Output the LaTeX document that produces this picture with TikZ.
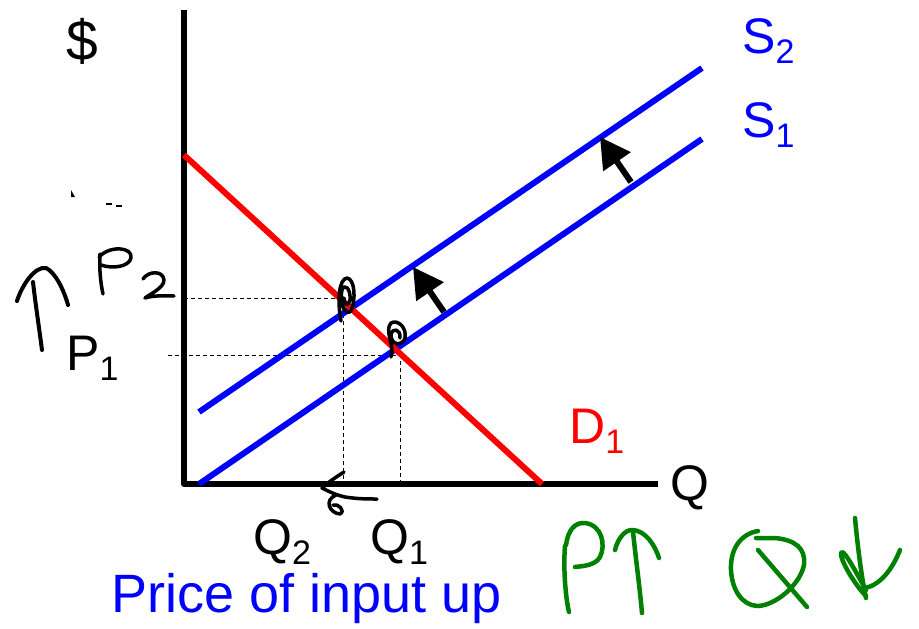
\documentclass[tikz,border=0pt]{standalone}
\usepackage{fontspec}
\setmainfont{Liberation Sans}
\usetikzlibrary{arrows.meta}
\definecolor{hwgreen}{RGB}{0,128,0}
\definecolor{pblue}{RGB}{0,0,255}
\definecolor{pred}{RGB}{255,0,0}
\newcommand{\lbl}[2]{#1\raisebox{-10pt}[\height][2pt]{\fontsize{34}{34}\selectfont #2}}
\begin{document}
\begin{tikzpicture}[x=1pt,y=-1pt,
  axis/.style={line width=6pt,line join=round},
  curveS/.style={pblue,line width=6pt},
  curveD/.style={pred,line width=6pt},
  guide/.style={line width=0.9pt,dash pattern=on 4pt off 3pt},
  shiftarrow/.style={line width=6pt,-{Triangle[length=30pt,width=32pt]}},
  txt/.style={inner sep=0pt,anchor=base west,font=\fontsize{50}{50}\selectfont},
  hw/.style={line width=3.5pt,line cap=round,line join=round},
  hwg/.style={hwgreen,line width=4.5pt,line cap=round,line join=round}]
\useasboundingbox (0,0) rectangle (919,629);
% axes
\coordinate (ytop) at (184,10);
\coordinate (orig) at (184,484);
\coordinate (xend) at (658,484);
\draw[axis] (ytop) -- (orig) -- (xend);
% guides
\coordinate (e2) at (343,298);
\coordinate (e1) at (400,355);
\coordinate (p2) at (184,298);
\coordinate (p1) at (168,355);
\coordinate (q2) at (343,484);
\coordinate (q1) at (400,484);
\draw[guide] (p2) -- (e2) -- (q2);
\draw[guide] (p1) -- (e1) -- (q1);
% supply curves
\coordinate (s1a) at (199,484);
\coordinate (s1b) at (702,139);
\coordinate (s2a) at (199,412);
\coordinate (s2b) at (702,68);
\draw[curveS] (s1a) -- (s1b);
\draw[curveS] (s2a) -- (s2b);
% demand
\coordinate (da) at (184,155);
\coordinate (db) at (542,484);
\draw[curveD] (da) -- (db);
% shift arrows
\coordinate (a1t) at (444,312);
\coordinate (a1h) at (413,267);
\coordinate (a2t) at (631,182);
\coordinate (a2h) at (600,137);
\draw[shiftarrow] (a1t) -- (a1h);
\draw[shiftarrow] (a2t) -- (a2h);
% labels
\node[inner sep=0pt,anchor=base,font=\fontsize{57}{57}\selectfont] (dollar) at (82,60) {\$};
\node[txt,pblue] (S2) at (742,53) {\lbl{S}{2}};
\node[txt,pblue] (S1) at (742,137) {\lbl{S}{1}};
\node[txt] (Q) at (670,500) {Q};
\node[txt,pred] (D1) at (569,443) {\lbl{D}{1}};
\node[txt] (P1) at (66,370) {\lbl{P}{1}};
\node[txt] (Q2) at (253,554) {\lbl{Q}{2}};
\node[txt] (Q1) at (370,554) {\lbl{Q}{1}};
\node[txt,pblue,font=\fontsize{54}{54}\selectfont] (title) at (111,612) {Price of input up};
% specks
\fill (71,190) -- (75,197) -- (71,197) -- cycle;
\fill (106,203) rectangle (112,205);
\fill (116,205) rectangle (122,207);
% black handwriting: up arrow and P2
\draw[hw,line width=4pt] (42,350) .. controls (38,320) and (35,300) .. (33,282);
\draw[hw,line width=4pt] (17,301) .. controls (22,285) and (35,266) .. (46,268) .. controls (55,272) and (64,290) .. (68,305);
\draw[hw] (100,254) .. controls (99,270) and (101,285) .. (103,294);
\draw[hw] (99,257) .. controls (110,245) and (133,247) .. (131,258) .. controls (129,267) and (112,269) .. (101,265);
\draw[hw] (143,279) .. controls (148,271) and (163,270) .. (164,280) .. controls (164,288) and (150,294) .. (145,298) .. controls (155,295) and (165,296) .. (174,296);
% scribbles at equilibria
\draw[hw] (341,321) .. controls (337,300) and (339,279) .. (347,278) .. controls (355,279) and (356,300) .. (351,311) .. controls (346,316) and (339,305) .. (342,290) .. controls (344,283) and (351,288) .. (350,300) .. controls (349,306) and (344,306) .. (344,298);
\draw[hw] (391,357) .. controls (395,345) and (384,331) .. (391,323) .. controls (398,319) and (407,328) .. (405,338) .. controls (403,346) and (391,346) .. (391,335) .. controls (392,327) and (401,329) .. (400,338);
% left arrow at Q2
\draw[hw] (344,472) .. controls (336,477) and (326,484) .. (322,488) .. controls (330,492) and (336,495) .. (345,497) .. controls (358,499) and (368,499) .. (377,499);
\draw[hw] (336,495) .. controls (324,500) and (329,513) .. (340,514) .. controls (346,511) and (338,503) .. (333,505);
% green handwriting
\draw[hwg] (565,546) .. controls (563,570) and (566,600) .. (569,612);
\draw[hwg] (566,545) .. controls (568,530) and (575,522) .. (585,523) .. controls (602,525) and (606,545) .. (600,557) .. controls (595,566) and (582,566) .. (575,567);
\draw[hwg] (633,532) .. controls (636,560) and (640,590) .. (642,613);
\draw[hwg] (615,550) .. controls (618,538) and (625,530) .. (632,530) .. controls (645,530) and (655,545) .. (659,558);
\draw[hwg] (758,531) .. controls (740,534) and (730,550) .. (731,570) .. controls (732,590) and (742,605) .. (757,606) .. controls (775,606) and (800,585) .. (804,565) .. controls (806,548) and (795,540) .. (775,538) -- (756,538);
\draw[hwg] (758,550) -- (807,607);
\draw[hwg] (855,518) .. controls (858,550) and (862,580) .. (866,598);
\draw[hwg] (866,596) .. controls (855,585) and (840,560) .. (841,553) .. controls (843,548) and (852,565) .. (866,590);
\draw[hwg] (865,588) .. controls (880,585) and (892,570) .. (900,550);
\end{tikzpicture}
\end{document}
